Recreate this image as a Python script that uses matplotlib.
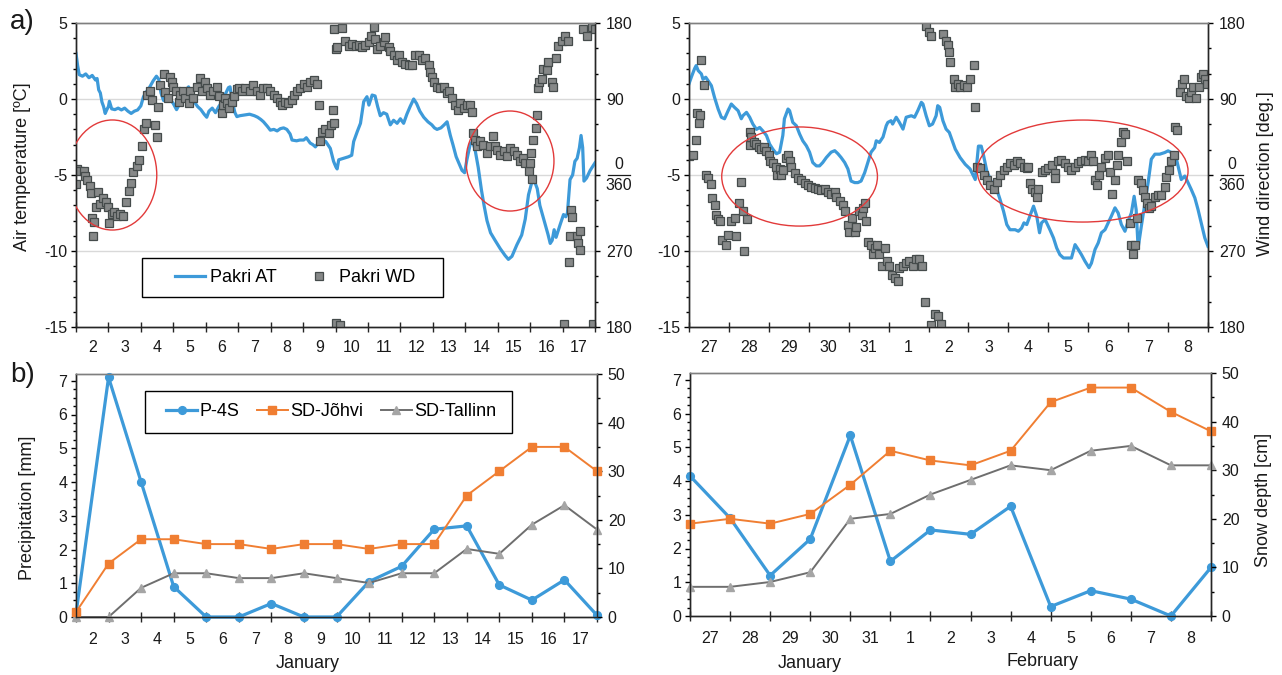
import numpy as np
import matplotlib
matplotlib.use("Agg")
import matplotlib.pyplot as plt
from matplotlib.patches import Ellipse, Rectangle
from matplotlib.lines import Line2D
from matplotlib.ticker import MultipleLocator

plt.rcParams['font.family'] = ['Liberation Sans', 'DejaVu Sans']
plt.rcParams['axes.unicode_minus'] = False

# ── Day labels ────────────────────────────────────────────────────────────────
DAYS_A = [str(d) for d in range(2, 18)]
DAYS_B = ['27', '28', '29', '30', '31', '1', '2', '3', '4', '5', '6', '7', '8']

# ── Pakri air temperature (days since start of first labelled day, degC) ──────
at_a_day = [0.00, 0.05, 0.10, 0.20, 0.30, 0.40, 0.50, 0.60, 0.65, 0.70, 0.75, 0.80,
            0.85, 0.90, 0.95, 1.00, 1.03, 1.10, 1.20, 1.30, 1.40, 1.50, 1.60, 1.70,
            1.80, 1.90, 2.00, 2.08, 2.16, 2.25, 2.38, 2.48, 2.55, 2.62, 2.70, 2.80,
            2.90, 3.00, 3.10, 3.20, 3.30, 3.40, 3.47, 3.55, 3.65, 3.75, 3.85, 3.95,
            4.03, 4.10, 4.20, 4.30, 4.40, 4.50, 4.60, 4.70, 4.75, 4.80, 4.90, 4.96,
            5.05, 5.20, 5.35, 5.50, 5.60, 5.70, 5.78, 5.90, 5.99, 6.10, 6.20, 6.30,
            6.40, 6.50, 6.60, 6.66, 6.80, 6.90, 7.02, 7.10, 7.22, 7.30, 7.38, 7.50,
            7.60, 7.70, 7.84, 7.94, 8.01, 8.05, 8.10, 8.25, 8.40, 8.50, 8.56, 8.67,
            8.77, 8.87, 8.97, 9.03, 9.13, 9.22, 9.30, 9.38, 9.48, 9.58, 9.69, 9.79,
            9.90, 10.00, 10.10, 10.20, 10.30, 10.41, 10.50, 10.60, 10.72, 10.85, 10.97, 11.05,
            11.13, 11.25, 11.35, 11.44, 11.54, 11.62, 11.72, 11.82, 11.90, 11.98, 12.05, 12.15,
            12.22, 12.30, 12.40, 12.50, 12.58, 12.67, 12.78, 12.92, 13.08, 13.23, 13.33, 13.44,
            13.59, 13.74, 13.85, 13.95, 14.05, 14.15, 14.22, 14.30, 14.42, 14.55, 14.62, 14.68,
            14.74, 14.80, 14.92, 15.03, 15.10, 15.15, 15.23, 15.31, 15.38, 15.45, 15.52, 15.57,
            15.62, 15.66, 15.74, 15.85, 16.00]
at_a_t = [3.0, 2.2, 1.6, 1.5, 1.65, 1.4, 1.55, 1.25, 1.35, 0.6, 0.4, -0.2,
          -0.5, -0.95, -0.7, -0.5, -0.15, -0.65, -0.7, -0.6, -0.72, -0.6, -0.8, -0.95,
          -0.8, -0.72, -0.45, 0.15, 0.45, 0.7, 1.2, 1.5, 1.3, 0.4, -0.1, 0.3,
          0.0, -0.3, -0.7, -0.3, 0.2, 0.6, 0.8, 0.3, -0.2, -0.5, -0.7, -1.0,
          -1.2, -0.8, -0.6, -0.9, -0.5, -0.2, 0.3, 0.75, 0.8, 0.0, -0.9, -1.16,
          -1.1, -1.05, -1.0, -1.1, -1.2, -1.35, -1.5, -1.8, -2.05, -2.0, -2.1, -1.95,
          -1.9, -2.0, -2.3, -2.7, -2.75, -2.7, -2.7, -2.55, -2.9, -3.0, -3.15, -2.8,
          -2.7, -2.8, -3.25, -4.1, -4.46, -4.6, -4.0, -3.9, -3.8, -3.7, -2.8, -2.15,
          -1.6, -0.17, 0.15, -0.4, 0.26, 0.2, -0.5, -1.1, -0.9, -1.0, -1.7, -1.4,
          -1.6, -1.3, -1.6, -1.0, -0.5, 0.0, -0.3, -0.8, -1.2, -1.5, -1.7, -1.9,
          -2.0, -1.9, -1.7, -1.5, -2.4, -3.0, -3.8, -4.3, -4.7, -4.85, -4.0, -3.0,
          -2.8, -3.3, -4.5, -6.0, -7.0, -8.0, -8.8, -9.3, -9.85, -10.3, -10.55, -10.35,
          -9.6, -8.95, -7.9, -6.3, -5.5, -5.5, -5.9, -7.0, -7.9, -8.9, -9.5, -9.3,
          -8.6, -9.1, -8.3, -7.6, -7.75, -7.5, -5.3, -5.0, -4.1, -3.9, -3.2, -2.4,
          -3.2, -5.4, -5.2, -4.7, -4.2]

at_b_day = [0.00, 0.06, 0.14, 0.18, 0.23, 0.31, 0.35, 0.42, 0.48, 0.56, 0.64, 0.73,
            0.81, 0.89, 0.98, 1.06, 1.14, 1.23, 1.31, 1.35, 1.44, 1.52, 1.60, 1.69,
            1.77, 1.85, 1.94, 2.02, 2.10, 2.19, 2.27, 2.35, 2.39, 2.48, 2.52, 2.60,
            2.69, 2.77, 2.85, 2.94, 3.02, 3.10, 3.19, 3.27, 3.35, 3.44, 3.56, 3.65,
            3.73, 3.81, 3.90, 3.98, 4.06, 4.15, 4.23, 4.31, 4.40, 4.48, 4.56, 4.65,
            4.69, 4.77, 4.86, 4.94, 4.98, 5.06, 5.10, 5.19, 5.27, 5.36, 5.44, 5.57,
            5.65, 5.73, 5.82, 5.86, 5.94, 6.02, 6.10, 6.19, 6.23, 6.28, 6.36, 6.44,
            6.52, 6.58, 6.67, 6.79, 6.92, 7.04, 7.17, 7.25, 7.32, 7.38, 7.46, 7.58,
            7.71, 7.79, 7.88, 7.96, 8.04, 8.17, 8.25, 8.33, 8.39, 8.46, 8.54, 8.63,
            8.71, 8.78, 8.83, 8.92, 9.04, 9.13, 9.21, 9.29, 9.38, 9.50, 9.58, 9.67,
            9.75, 9.83, 9.92, 10.02, 10.08, 10.17, 10.25, 10.33, 10.42, 10.50, 10.58, 10.67,
            10.75, 10.83, 10.92, 11.00, 11.08, 11.15, 11.20, 11.25, 11.33, 11.42, 11.50, 11.58,
            11.67, 11.79, 11.92, 12.00, 12.08, 12.17, 12.25, 12.33, 12.42, 12.50, 12.58, 12.67,
            12.75, 12.83, 12.92, 13.00]
at_b_t = [1.0, 1.45, 2.0, 2.2, 1.87, 1.65, 1.3, 1.43, 1.2, 0.88, 0.1, -0.66,
          -1.2, -1.3, -0.77, -0.33, -0.55, -0.77, -1.3, -1.1, -0.88, -1.2, -1.65, -2.0,
          -1.87, -2.1, -2.4, -2.97, -3.3, -3.6, -3.5, -2.4, -1.3, -0.66, -0.77, -1.54,
          -1.76, -2.3, -2.75, -3.08, -3.5, -4.18, -4.4, -4.4, -4.18, -3.85, -3.5, -3.4,
          -3.6, -3.85, -4.18, -4.6, -5.4, -5.5, -5.5, -5.4, -4.85, -4.18, -3.5, -3.2,
          -2.75, -2.86, -2.5, -1.76, -1.54, -1.43, -1.65, -1.2, -1.54, -1.98, -1.2, -1.1,
          -1.2, -0.77, -0.22, -0.33, -1.1, -1.76, -1.65, -1.1, -0.44, -0.55, -1.43, -1.98,
          -2.2, -2.64, -3.3, -3.85, -4.3, -4.6, -5.3, -3.1, -3.1, -3.74, -4.74, -5.5,
          -5.95, -6.6, -7.4, -8.26, -8.6, -8.6, -8.7, -8.5, -8.15, -8.26, -7.7, -7.05,
          -7.7, -8.8, -8.15, -7.93, -8.6, -9.14, -9.8, -10.24, -10.46, -10.46, -10.46, -9.58,
          -9.9, -10.24, -10.68, -11.1, -10.8, -9.9, -9.47, -8.8, -8.6, -8.15, -7.7, -7.16,
          -7.5, -8.26, -8.7, -8.04, -7.5, -6.4, -7.27, -9.8, -8.37, -6.83, -5.5, -3.96,
          -3.63, -3.63, -3.52, -3.41, -3.52, -3.52, -4.4, -5.3, -5.07, -5.5, -5.95, -6.5,
          -7.27, -8.15, -9.14, -9.7]

# ── Pakri wind direction (compass degrees) ───────────────────────────────────
wd_a_day = [0.00, 0.04, 0.12, 0.25, 0.28, 0.35, 0.43, 0.45, 0.48, 0.51, 0.56, 0.62,
            0.69, 0.74, 0.84, 0.93, 1.00, 1.03, 1.10, 1.17, 1.26, 1.36, 1.46, 1.54,
            1.62, 1.69, 1.77, 1.87, 1.95, 2.03, 2.10, 2.16, 2.20, 2.28, 2.33, 2.44,
            2.51, 2.54, 2.59, 2.70, 2.75, 2.85, 2.90, 2.95, 3.00, 3.09, 3.16, 3.21,
            3.31, 3.36, 3.47, 3.52, 3.62, 3.72, 3.83, 3.88, 3.98, 4.03, 4.14, 4.22,
            4.34, 4.42, 4.50, 4.53, 4.60, 4.65, 4.73, 4.80, 4.86, 4.96, 5.01, 5.11,
            5.22, 5.37, 5.47, 5.58, 5.68, 5.78, 5.88, 5.99, 6.09, 6.20, 6.28, 6.35,
            6.45, 6.55, 6.66, 6.71, 6.81, 6.91, 7.02, 7.12, 7.22, 7.33, 7.43, 7.48,
            7.53, 7.58, 7.69, 7.79, 7.87, 7.92, 7.95, 7.95, 8.00, 8.05, 8.03, 8.14,
            8.20, 8.30, 8.41, 8.51, 8.62, 8.72, 8.82, 8.92, 9.03, 9.08, 9.18, 9.23,
            9.28, 9.38, 9.49, 9.54, 9.64, 9.69, 9.79, 9.90, 9.95, 10.05, 10.15, 10.26,
            10.36, 10.46, 10.56, 10.67, 10.77, 10.87, 10.92, 10.97, 11.03, 11.13, 11.23, 11.33,
            11.44, 11.49, 11.59, 11.69, 11.79, 11.85, 11.95, 12.05, 12.15, 12.21, 12.24, 12.30,
            12.36, 12.46, 12.56, 12.67, 12.77, 12.87, 12.92, 12.97, 13.08, 13.18, 13.28, 13.38,
            13.49, 13.59, 13.69, 13.79, 13.85, 13.95, 14.00, 14.02, 14.05, 14.08, 14.18, 14.21,
            14.23, 14.26, 14.36, 14.41, 14.51, 14.56, 14.67, 14.72, 14.80, 14.87, 14.97, 15.03,
            15.08, 15.18, 15.19, 15.26, 15.30, 15.23, 15.44, 15.49, 15.54, 15.54, 15.64, 15.74,
            15.90, 16.00, 15.95]
wd_a_deg = [349, 7, 5, 5, 359, 354, 347, 339, 309, 288, 304, 322,
            340, 326, 333, 328, 322, 303, 314, 316, 312, 314, 312, 328,
            341, 351, 3, 11, 18, 34, 54, 61, 95, 100, 89, 59,
            45, 81, 106, 120, 98, 91, 116, 110, 104, 99, 86, 95,
            100, 91, 85, 99, 91, 104, 115, 99, 110, 103, 95, 100,
            104, 93, 73, 83, 91, 85, 79, 87, 93, 102, 103, 100,
            103, 100, 106, 99, 95, 103, 103, 99, 95, 91, 86, 83,
            86, 85, 89, 95, 99, 103, 108, 104, 110, 112, 108, 83,
            40, 51, 54, 50, 59, 77, 61, 173, 149, 151, 185, 182,
            174, 159, 153, 155, 153, 154, 151, 154, 157, 165, 175, 161,
            149, 153, 157, 163, 151, 147, 142, 136, 142, 134, 132, 130,
            130, 142, 142, 136, 138, 130, 122, 116, 110, 104, 103, 104,
            97, 100, 91, 83, 77, 85, 79, 83, 83, 75, 50, 42,
            34, 40, 36, 26, 34, 46, 34, 30, 24, 28, 22, 32,
            28, 24, 16, 20, 14, 5, 14, 26, 355, 42, 56, 71,
            103, 110, 114, 126, 124, 134, 110, 104, 138, 153, 159, 183,
            165, 159, 257, 319, 310, 288, 288, 279, 271, 294, 173, 165,
            175, 173, 183]

wd_b_day = [0.00, 0.10, 0.18, 0.19, 0.25, 0.28, 0.31, 0.37, 0.42, 0.48, 0.56, 0.58,
            0.64, 0.67, 0.73, 0.78, 0.83, 0.92, 0.98, 1.06, 1.14, 1.17, 1.25, 1.31,
            1.35, 1.39, 1.45, 1.52, 1.53, 1.56, 1.62, 1.69, 1.75, 1.81, 1.89, 1.94,
            2.00, 2.04, 2.10, 2.17, 2.20, 2.27, 2.31, 2.35, 2.44, 2.48, 2.52, 2.56,
            2.65, 2.73, 2.81, 2.90, 2.98, 3.06, 3.15, 3.23, 3.31, 3.40, 3.48, 3.56,
            3.65, 3.69, 3.77, 3.85, 3.90, 3.98, 4.02, 4.09, 4.15, 4.19, 4.27, 4.34,
            4.36, 4.40, 4.44, 4.48, 4.56, 4.61, 4.65, 4.71, 4.77, 4.84, 4.90, 4.96,
            5.02, 5.09, 5.15, 5.23, 5.27, 5.36, 5.44, 5.52, 5.61, 5.69, 5.77, 5.84,
            5.90, 5.94, 6.02, 6.07, 6.07, 6.15, 6.23, 6.32, 6.36, 6.44, 6.48, 6.52,
            6.55, 6.63, 6.67, 6.73, 6.79, 6.88, 6.96, 7.04, 7.13, 7.17, 7.21, 7.29,
            7.38, 7.46, 7.54, 7.63, 7.71, 7.79, 7.88, 7.96, 8.04, 8.13, 8.21, 8.29,
            8.38, 8.46, 8.50, 8.54, 8.60, 8.67, 8.71, 8.75, 8.83, 8.92, 9.00, 9.08,
            9.17, 9.18, 9.25, 9.33, 9.42, 9.50, 9.58, 9.67, 9.75, 9.83, 9.92, 10.00,
            10.08, 10.13, 10.17, 10.21, 10.27, 10.33, 10.42, 10.50, 10.54, 10.60, 10.67, 10.71,
            10.75, 10.83, 10.88, 10.93, 10.98, 11.05, 11.08, 11.13, 11.17, 11.21, 11.25, 11.32,
            11.38, 11.42, 11.46, 11.52, 11.58, 11.67, 11.75, 11.83, 11.92, 11.96, 12.02, 12.08,
            12.15, 12.17, 12.23, 12.29, 12.35, 12.40, 12.46, 12.52, 12.58, 12.63, 12.71, 12.77,
            12.82, 12.88, 12.92, 12.98]
wd_b_deg = [22, 24, 41, 73, 61, 71, 136, 106, 0, 356, 349, 333,
            325, 313, 308, 305, 283, 277, 289, 305, 309, 288, 327, 352,
            317, 270, 308, 51, 35, 45, 39, 37, 33, 31, 33, 28,
            24, 16, 14, 10, 0, 7, 0, 6, 20, 24, 16, 10,
            2, 356, 354, 350, 348, 346, 345, 344, 342, 344, 340, 338,
            340, 334, 329, 325, 317, 301, 293, 309, 293, 299, 317, 313,
            321, 327, 305, 281, 277, 267, 273, 277, 267, 252, 273, 258,
            252, 242, 238, 234, 250, 252, 256, 258, 252, 260, 260, 252,
            210, 177, 169, 165, 182, 195, 193, 183, 167, 159, 154, 146,
            134, 114, 104, 108, 104, 106, 104, 114, 130, 80, 10, 8,
            0, 354, 348, 344, 352, 0, 6, 10, 14, 12, 16, 14,
            10, 8, 10, 350, 344, 340, 334, 344, 4, 6, 8, 12,
            2, 356, 16, 18, 14, 10, 6, 10, 14, 16, 18, 16,
            24, 16, 354, 348, 0, 10, 20, 24, 4, 338, 354, 12,
            24, 39, 51, 49, 16, 303, 277, 267, 277, 309, 354, 350,
            342, 334, 327, 321, 323, 334, 336, 336, 346, 358, 6, 16,
            24, 57, 53, 98, 108, 114, 93, 91, 98, 104, 91, 104,
            116, 120, 114, 108]

# ── Daily precipitation (mm) and snow depth (cm) ──────────────────────────────
p4s_a     = [0.1, 7.1, 4.0, 0.9, 0, 0, 0.4, 0, 0, 1.05, 1.5, 2.6, 2.7, 0.95, 0.5, 1.1, 0.05]
johvi_a   = [1, 11, 16, 16, 15, 15, 14, 15, 15, 14, 15, 15, 25, 30, 35, 35, 30]
tallinn_a = [0, 0, 6, 9, 9, 8, 8, 9, 8, 7, 9, 9, 14, 13, 19, 23, 18]

p4s_b     = [4.15, 2.9, 1.2, 2.28, 5.35, 1.62, 2.55, 2.42, 3.25, 0.28, 0.75, 0.5, 0, 1.44]
johvi_b   = [19, 20, 19, 21, 27, 34, 32, 31, 34, 44, 47, 47, 42, 38]
tallinn_b = [6, 6, 7, 9, 20, 21, 25, 28, 31, 30, 34, 35, 31, 31]

# ── Styling ──────────────────────────────────────────────────────────────────
BLUE      = '#3D9AD9'
ORANGE    = '#F07E32'
GRAY_LINE = '#6E6E6E'
GRAY_MARK = '#A5A5A5'
SQ_FACE   = '#868888'
SQ_EDGE   = '#454B4B'
RED       = '#E23A3A'
TXT       = '#1A1A1A'
FS_TICK   = 11.5
FS_LAB    = 13

W, H = 1282, 675
fig = plt.figure(figsize=(W / 100, H / 100), dpi=100)
fig.patch.set_facecolor('white')


def px_axes(x0, x1, y0, y1):
    return fig.add_axes([x0 / W, 1 - y1 / H, (x1 - x0) / W, (y1 - y0) / H])


def wd_axis(deg):
    deg = np.asarray(deg, dtype=float)
    return np.where(deg > 180, deg - 360, deg)


def style_spines(*axes):
    for a in axes:
        for side, sp in a.spines.items():
            sp.set_linewidth(1.0)
            sp.set_color('#7F7F7F' if side == 'top' else '#262626')


def day_axis(ax, ndays, labels, pad):
    ax.set_xlim(0, ndays)
    ax.set_xticks(np.arange(ndays + 1))
    ax.set_xticklabels([])
    ax.set_xticks(np.arange(ndays) + 0.5, labels, minor=True)
    ax.tick_params(axis='x', which='major', direction='inout', length=7, width=1, color='#262626')
    ax.tick_params(axis='x', which='minor', length=0, pad=pad, labelsize=FS_TICK, labelcolor=TXT)


def temp_panel(ax, at_day, at_t, wd_day, wd_deg, labels, ellipses):
    for g in (-10, -5, 0):
        ax.axhline(g, color='#D9D9D9', lw=1.0, zorder=1)
    ax.plot(at_day, at_t, color=BLUE, lw=2.3, solid_joinstyle='round', zorder=3)
    ax.set_ylim(-15, 5)
    ax.yaxis.set_major_locator(MultipleLocator(5))
    ax.yaxis.set_minor_locator(MultipleLocator(1))
    ax.tick_params(axis='y', which='major', direction='out', length=3.8, width=1,
                   pad=2.5, labelsize=FS_TICK, labelcolor=TXT)
    ax.tick_params(axis='y', which='minor', direction='out', length=2.2, width=1)
    day_axis(ax, len(labels), labels, pad=9.5)

    ax2 = ax.twinx()
    ax2.plot(wd_day, wd_axis(wd_deg), ls='none', marker='s', ms=5.8,
             mfc=SQ_FACE, mec=SQ_EDGE, mew=0.9)
    ax2.set_ylim(-180, 180)
    ax2.set_yticks([-180, -90, 0, 90, 180], ['180', '270', '', '90', '180'])
    ax2.yaxis.set_minor_locator(MultipleLocator(30))
    ax2.tick_params(axis='y', which='major', direction='out', length=3.8, width=1,
                    pad=4, labelsize=FS_TICK, labelcolor=TXT)
    ax2.tick_params(axis='y', which='minor', direction='out', length=2.2, width=1)

    # "0 over 360" label at north
    tr = ax2.get_yaxis_transform()
    ax2.text(1.046, 3, '0', transform=tr, ha='center', va='bottom',
             fontsize=FS_TICK, color=TXT)
    ax2.text(1.046, -3, '360', transform=tr, ha='center', va='top',
             fontsize=FS_TICK, color=TXT)
    ax2.add_line(Line2D([1.025, 1.067], [0, 0], transform=tr, color=TXT,
                        lw=0.9, clip_on=False))

    # highlighted periods, given in temperature units
    for cx, cy, w, h in ellipses:
        ax2.add_patch(Ellipse((cx, 18 * (cy + 5)), w, 18 * h, fill=False,
                              ec=RED, lw=1.0, zorder=6))
    style_spines(ax, ax2)
    return ax2


def precip_panel(ax, p4s, johvi, tallinn, labels):
    x = np.arange(len(p4s))
    ax.plot(x, p4s, color=BLUE, lw=2.3, marker='o', ms=5.6, clip_on=False, zorder=3)
    ax.set_ylim(0, 7.2)
    ax.yaxis.set_major_locator(MultipleLocator(1))
    ax.yaxis.set_minor_locator(MultipleLocator(0.25))
    ax.tick_params(axis='y', which='major', direction='out', length=3.8, width=1,
                   pad=2.5, labelsize=FS_TICK, labelcolor=TXT)
    ax.tick_params(axis='y', which='minor', direction='out', length=2.2, width=1)
    day_axis(ax, len(labels), labels, pad=10.5)

    ax2 = ax.twinx()
    ax2.plot(x, tallinn, color=GRAY_LINE, lw=1.4, marker='^', ms=5.8,
             mfc=GRAY_MARK, mec=GRAY_MARK, clip_on=False)
    ax2.plot(x, johvi, color=ORANGE, lw=1.4, marker='s', ms=5.6,
             mfc=ORANGE, mec=ORANGE, clip_on=False)
    ax2.set_ylim(0, 50)
    ax2.yaxis.set_major_locator(MultipleLocator(10))
    ax2.yaxis.set_minor_locator(MultipleLocator(5))
    ax2.tick_params(axis='y', which='major', direction='out', length=3.8, width=1,
                    pad=4, labelsize=FS_TICK, labelcolor=TXT)
    ax2.tick_params(axis='y', which='minor', direction='out', length=2.2, width=1)
    style_spines(ax, ax2)
    return ax2


# ── a) temperature / wind direction ──────────────────────────────────────────
ax_a1 = px_axes(76, 595, 23, 327)
ax_a2 = px_axes(689, 1208, 23, 327)
tw_a1 = temp_panel(ax_a1, at_a_day, at_a_t, wd_a_day, wd_a_deg, DAYS_A,
                   [(1.12, -5.0, 2.74, 7.24), (13.38, -4.08, 2.71, 6.58)])
tw_a2 = temp_panel(ax_a2, at_b_day, at_b_t, wd_b_day, wd_b_deg, DAYS_B,
                   [(2.77, -5.1, 3.9, 6.52), (9.86, -4.74, 5.28, 6.71)])

# legend a)
fig.patches.append(Rectangle((142 / W, 1 - 297 / H), 301 / W, 39 / H,
                             transform=fig.transFigure, fill=True, fc='white',
                             ec='black', lw=1.0, zorder=10))
h_at = Line2D([], [], color=BLUE, lw=2.3)
h_wd = Line2D([], [], ls='none', marker='s', ms=5.8, mfc=SQ_FACE, mec=SQ_EDGE, mew=0.9)
leg = fig.legend([h_at, h_wd], ['Pakri AT', 'Pakri WD'], ncol=2, loc='center',
                 bbox_to_anchor=(295 / W, 1 - 277.5 / H), frameon=False,
                 fontsize=FS_LAB, handlelength=1.7, handletextpad=0.25,
                 columnspacing=1.5, borderpad=0)
leg.set_zorder(11)

# ── b) precipitation / snow depth ────────────────────────────────────────────
ax_b1 = px_axes(76, 597, 374, 617)
ax_b2 = px_axes(690, 1211, 373, 616)
precip_panel(ax_b1, p4s_a, johvi_a, tallinn_a, DAYS_A)
precip_panel(ax_b2, p4s_b, johvi_b, tallinn_b, DAYS_B)

fig.patches.append(Rectangle((145 / W, 1 - 433 / H), 367 / W, 42 / H,
                             transform=fig.transFigure, fill=True, fc='white',
                             ec='black', lw=1.0, zorder=10))
h_p = Line2D([], [], color=BLUE, lw=2.3, marker='o', ms=5.6)
h_j = Line2D([], [], color=ORANGE, lw=1.4, marker='s', ms=5.6)
h_t = Line2D([], [], color=GRAY_LINE, lw=1.4, marker='^', ms=5.8, mfc=GRAY_MARK, mec=GRAY_MARK)
leg_b = fig.legend([h_p, h_j, h_t], ['P-4S', 'SD-Jõhvi', 'SD-Tallinn'], ncol=3,
                   loc='center', bbox_to_anchor=(331 / W, 1 - 412 / H), frameon=False,
                   fontsize=FS_LAB, handlelength=1.7, handletextpad=0.12,
                   columnspacing=1.0, borderpad=0)
leg_b.set_zorder(11)

# ── Axis titles and panel tags ───────────────────────────────────────────────
fig.text(23 / W, 1 - 167 / H, 'Air tempeerature [ºC]', rotation=90,
         ha='center', va='center', fontsize=FS_LAB, color=TXT)
fig.text(1265 / W, 1 - 174 / H, 'Wind direction [deg.]', rotation=90,
         ha='center', va='center', fontsize=FS_LAB, color=TXT)
fig.text(27 / W, 1 - 508 / H, 'Precipitation [mm]', rotation=90,
         ha='center', va='center', fontsize=FS_LAB, color=TXT)
fig.text(1263 / W, 1 - 500 / H, 'Snow depth [cm]', rotation=90,
         ha='center', va='center', fontsize=FS_LAB, color=TXT)
fig.text(308 / W, 1 - 663 / H, 'January', ha='center', va='center',
         fontsize=FS_LAB, color=TXT)
fig.text(810 / W, 1 - 663 / H, 'January', ha='center', va='center',
         fontsize=FS_LAB, color=TXT)
fig.text(1043 / W, 1 - 661 / H, 'February', ha='center', va='center',
         fontsize=FS_LAB, color=TXT)
fig.text(22 / W, 1 - 22 / H, 'a)', ha='center', va='center', fontsize=20, color=TXT)
fig.text(23 / W, 1 - 375 / H, 'b)', ha='center', va='center', fontsize=20, color=TXT)

fig.savefig('out.png', dpi=100, facecolor='white')
